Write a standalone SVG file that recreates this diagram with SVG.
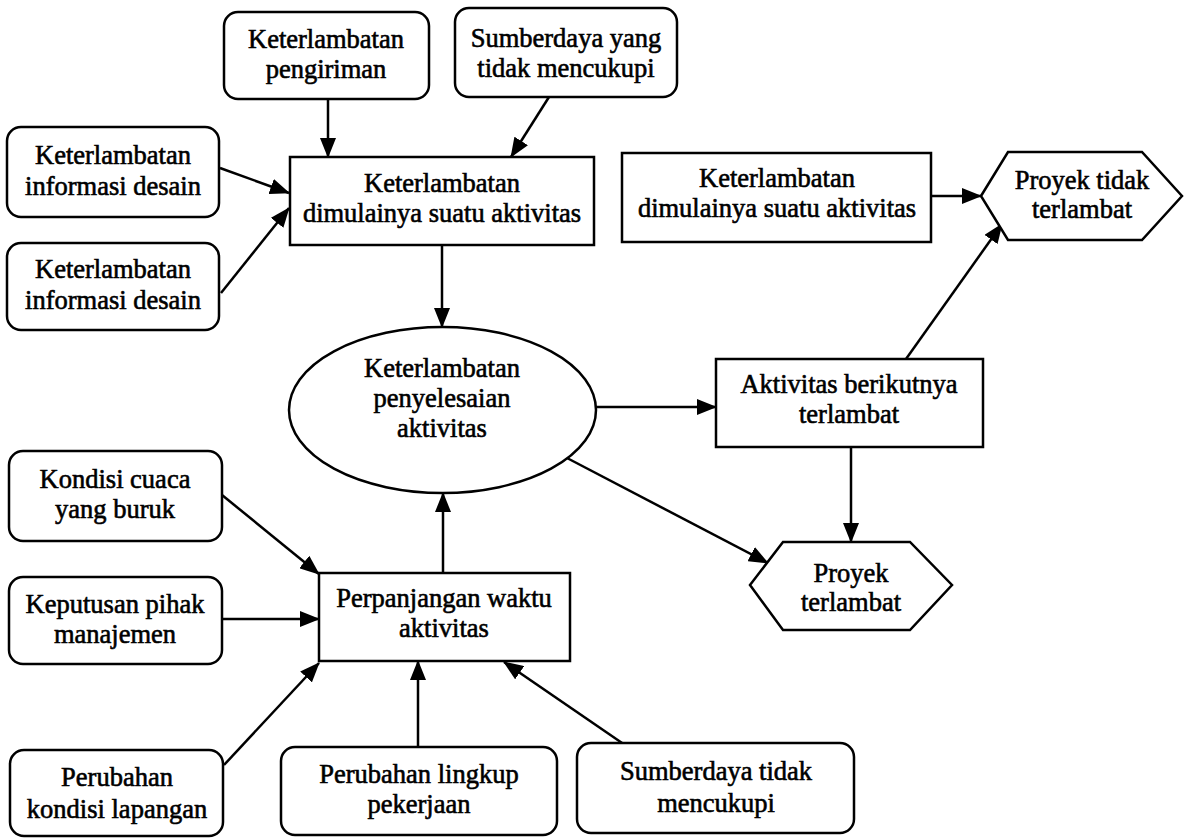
<svg xmlns="http://www.w3.org/2000/svg" width="1185" height="838" viewBox="0 0 1185 838">
<style>
.n{fill:#fff;stroke:#000;stroke-width:2.5}
.t{font-family:"Liberation Serif","Times New Roman",serif;font-size:26.5px;fill:#000;text-anchor:middle;stroke:#000;stroke-width:0.6}
.c{stroke:#000;stroke-width:2.5;fill:none;marker-end:url(#ah)}
</style>
<defs>
<marker id="ah" markerUnits="userSpaceOnUse" markerWidth="20" markerHeight="16" refX="19" refY="8" orient="auto">
<path d="M0,0 L20,8 L0,16 z" fill="#000"/>
</marker>
</defs>
<rect width="1185" height="838" fill="#fff"/>
<g id="connectors">
<line class="c" x1="328" y1="99" x2="328" y2="157"/>
<line class="c" x1="549" y1="97" x2="511" y2="157"/>
<line class="c" x1="220" y1="168" x2="289" y2="193"/>
<line class="c" x1="221" y1="293" x2="289" y2="208"/>
<line class="c" x1="442" y1="245" x2="442" y2="327"/>
<line class="c" x1="931" y1="196" x2="981" y2="196"/>
<line class="c" x1="906" y1="359" x2="1002" y2="224"/>
<line class="c" x1="596" y1="407" x2="716" y2="407"/>
<line class="c" x1="851" y1="447" x2="851" y2="542"/>
<line class="c" x1="567" y1="458" x2="768" y2="563"/>
<line class="c" x1="443" y1="573" x2="443" y2="493"/>
<line class="c" x1="222" y1="495" x2="319" y2="574"/>
<line class="c" x1="222" y1="619" x2="319" y2="619"/>
<line class="c" x1="224" y1="765" x2="319" y2="663"/>
<line class="c" x1="418" y1="747" x2="418" y2="661"/>
<line class="c" x1="625" y1="745" x2="504" y2="662"/>
</g>
<g id="n-pengiriman">
<rect class="n" x="224" y="12" width="205" height="87" rx="14"/>
<text class="t" x="326" y="48">Keterlambatan</text>
<text class="t" x="326" y="78">pengiriman</text>
</g>
<g id="n-sumberdaya-yang">
<rect class="n" x="455" y="8" width="222" height="89" rx="14"/>
<text class="t" x="566" y="47">Sumberdaya yang</text>
<text class="t" x="566" y="77">tidak mencukupi</text>
</g>
<g id="n-info1">
<rect class="n" x="7" y="127" width="212" height="90" rx="14"/>
<text class="t" x="113" y="164">Keterlambatan</text>
<text class="t" x="113" y="195">informasi desain</text>
</g>
<g id="n-info2">
<rect class="n" x="7" y="243" width="212" height="87" rx="14"/>
<text class="t" x="113" y="278">Keterlambatan</text>
<text class="t" x="113" y="309">informasi desain</text>
</g>
<g id="n-dimulai">
<rect class="n" x="290" y="157" width="304" height="88"/>
<text class="t" x="442" y="192">Keterlambatan</text>
<text class="t" x="442" y="222">dimulainya suatu aktivitas</text>
</g>
<g id="n-dimulai2">
<rect class="n" x="622" y="153" width="309" height="89"/>
<text class="t" x="777" y="187">Keterlambatan</text>
<text class="t" x="777" y="217">dimulainya suatu aktivitas</text>
</g>
<g id="n-tidak-terlambat">
<polygon class="n" points="981,196 1008,152 1142,152 1182,196 1142,240 1008,240"/>
<text class="t" x="1082" y="189">Proyek tidak</text>
<text class="t" x="1082" y="218">terlambat</text>
</g>
<g id="n-penyelesaian">
<ellipse class="n" cx="442.5" cy="410" rx="153.5" ry="83"/>
<text class="t" x="442" y="377">Keterlambatan</text>
<text class="t" x="442" y="407">penyelesaian</text>
<text class="t" x="442" y="437">aktivitas</text>
</g>
<g id="n-berikutnya">
<rect class="n" x="716" y="359" width="267" height="88"/>
<text class="t" x="849" y="393">Aktivitas berikutnya</text>
<text class="t" x="849" y="423">terlambat</text>
</g>
<g id="n-terlambat">
<polygon class="n" points="750,585 783,542 910,542 952,585 910,630 783,630"/>
<text class="t" x="851" y="582">Proyek</text>
<text class="t" x="851" y="611">terlambat</text>
</g>
<g id="n-cuaca">
<rect class="n" x="9" y="451" width="213" height="90" rx="14"/>
<text class="t" x="115" y="488">Kondisi cuaca</text>
<text class="t" x="115" y="518">yang buruk</text>
</g>
<g id="n-keputusan">
<rect class="n" x="9" y="577" width="213" height="87" rx="14"/>
<text class="t" x="115" y="613">Keputusan pihak</text>
<text class="t" x="115" y="643">manajemen</text>
</g>
<g id="n-perpanjangan">
<rect class="n" x="319" y="573" width="251" height="88"/>
<text class="t" x="444" y="607">Perpanjangan waktu</text>
<text class="t" x="444" y="637">aktivitas</text>
</g>
<g id="n-perubahan-kondisi">
<rect class="n" x="10" y="750" width="213" height="86" rx="14"/>
<text class="t" x="117" y="786">Perubahan</text>
<text class="t" x="117" y="818">kondisi lapangan</text>
</g>
<g id="n-perubahan-lingkup">
<rect class="n" x="281" y="747" width="276" height="88" rx="14"/>
<text class="t" x="419" y="783">Perubahan lingkup</text>
<text class="t" x="419" y="813">pekerjaan</text>
</g>
<g id="n-sumberdaya-tidak">
<rect class="n" x="577" y="743" width="277" height="90" rx="14"/>
<text class="t" x="716" y="780">Sumberdaya tidak</text>
<text class="t" x="716" y="812">mencukupi</text>
</g>
</svg>
